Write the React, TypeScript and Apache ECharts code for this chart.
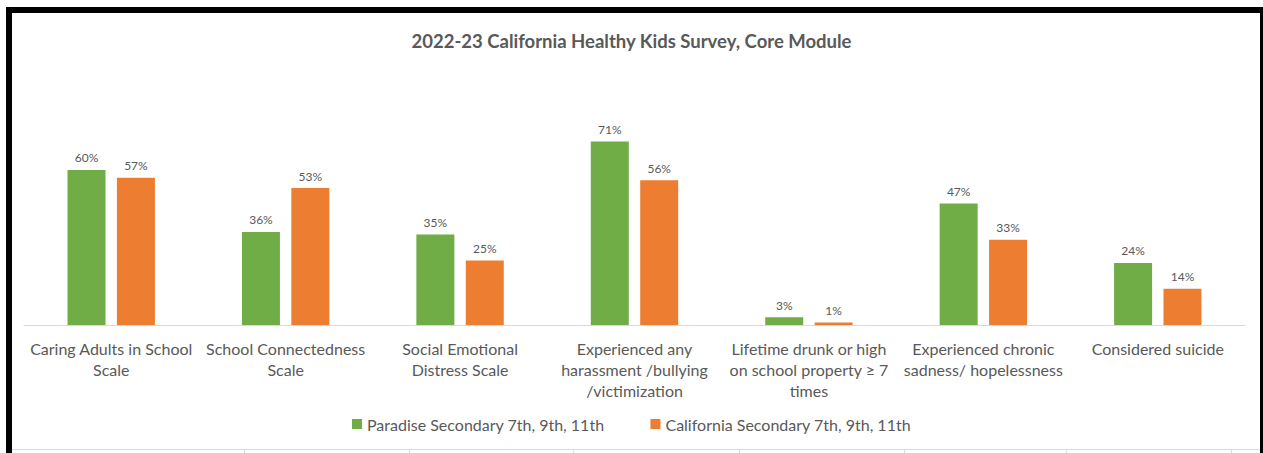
import React, { useEffect, useRef } from "react";
import * as echarts from "echarts";

const categories = [
  "Caring Adults in School\nScale",
  "School Connectedness\nScale",
  "Social Emotional\nDistress Scale",
  "Experienced any\nharassment /bullying\n/victimization",
  "Lifetime drunk or high\non school property ≥ 7\ntimes",
  "Experienced chronic\nsadness/ hopelessness",
  "Considered suicide",
];
const paradise = [60, 36, 35, 71, 3, 47, 24];
const california = [57, 53, 25, 56, 1, 33, 14];
const seriesNames = [
  "Paradise Secondary 7th, 9th, 11th",
  "California Secondary 7th, 9th, 11th",
];
const titleText = "2022-23 California Healthy Kids Survey, Core Module";
const cellLines = [244, 409, 573, 739, 904, 1066, 1231];

const FONT = "Lato, 'Open Sans', sans-serif";

export default function App() {
  const ref = useRef<HTMLDivElement>(null);
  useEffect(() => {
    document.body.style.margin = "0";
    const chart = echarts.init(ref.current!, null, { renderer: "svg" });
    const graphics: any[] = [
      { type: "rect", shape: { x: 6, y: 7, width: 1257, height: 6 }, style: { fill: "#000" }, z: 100 },
      { type: "rect", shape: { x: 6, y: 7, width: 6, height: 446 }, style: { fill: "#000" }, z: 100 },
      { type: "rect", shape: { x: 1260, y: 7, width: 3, height: 446 }, style: { fill: "#000" }, z: 100 },
      { type: "rect", shape: { x: 12, y: 449, width: 1248, height: 1 }, style: { fill: "#d9d9d9" }, z: 99 },
      ...cellLines.map((x) => ({
        type: "rect",
        shape: { x, y: 449, width: 1, height: 4 },
        style: { fill: "#d9d9d9" },
        z: 99,
      })),
    ];
    const labelStyle = {
      show: true,
      position: "top",
      distance: 6,
      formatter: "{c}%",
      fontFamily: FONT,
      fontSize: 12,
      color: "#595959",
    };
    chart.setOption({
      animation: false,
      backgroundColor: "#fff",
      title: {
        text: titleText,
        left: "center",
        top: 26,
        textStyle: { fontFamily: FONT, fontSize: 18.5, fontWeight: "bold", color: "#595959" },
      },
      legend: {
        data: seriesNames,
        top: 411,
        left: "center",
        itemWidth: 10,
        itemHeight: 10,
        itemGap: 46,
        icon: "rect",
        textStyle: { fontFamily: FONT, fontSize: 16, color: "#595959" },
      },
      grid: { left: 24, right: 18, top: 118.3, bottom: 128, containLabel: false },
      xAxis: {
        type: "category",
        data: categories,
        axisLine: { lineStyle: { color: "#d9d9d9", width: 1 } },
        axisTick: { show: false },
        axisLabel: {
          interval: 0,
          fontFamily: FONT,
          fontSize: 16,
          color: "#595959",
          lineHeight: 21,
          margin: 13,
        },
      },
      yAxis: {
        type: "value",
        min: 0,
        max: 80,
        show: false,
        splitLine: { show: false },
      },
      series: [
        {
          name: seriesNames[0],
          type: "bar",
          data: paradise,
          barWidth: 38,
          barGap: "30%",
          itemStyle: { color: "#70ad47" },
          label: labelStyle,
        },
        {
          name: seriesNames[1],
          type: "bar",
          data: california,
          barWidth: 38,
          barGap: "30%",
          itemStyle: { color: "#ed7d31" },
          label: labelStyle,
        },
      ],
      graphic: graphics,
    });
    return () => chart.dispose();
  }, []);
  return (
    <div
      ref={ref}
      style={{ position: "absolute", left: 0, top: 0, width: 1263, height: 453 }}
    />
  );
}
